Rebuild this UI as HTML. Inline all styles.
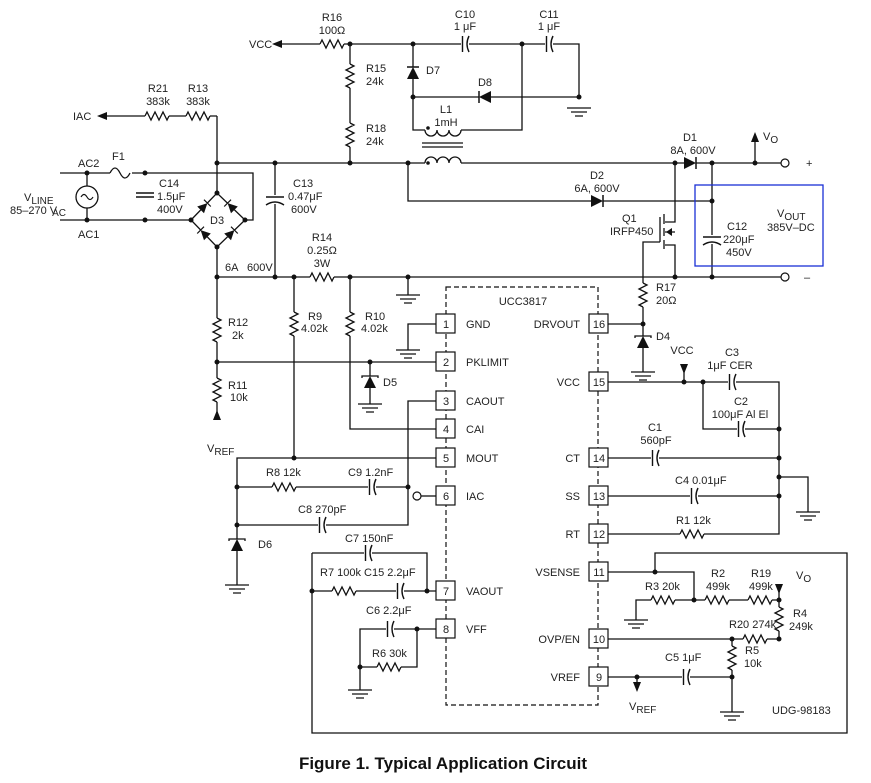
<!DOCTYPE html>
<html><head><meta charset="utf-8"><style>
html,body{margin:0;padding:0;background:#fff;}
svg{display:block;}
text{font-family:"Liberation Sans",Arial,sans-serif;font-size:11px;fill:#222;}
.w{fill:none;stroke:#111;stroke-width:1.3;}
.g{fill:none;stroke:#555;stroke-width:1.3;}
</style></head><body>
<svg width="871" height="783" viewBox="0 0 871 783" xmlns="http://www.w3.org/2000/svg">
<defs>
<g id="rh"><rect x="0" y="-2" width="24" height="4" fill="#fff"/><path d="M0,0 l2,-4 l4,8 l4,-8 l4,8 l4,-8 l4,8 l2,-4" fill="none" stroke="#111" stroke-width="1.3"/></g>
<g id="rv" transform="rotate(90)"><use href="#rh"/></g>
<g id="cap"><rect x="-4" y="-8" width="8" height="16" fill="#fff"/><path d="M-2.5,-8 V8 M4,-8 Q0,0 4,8" fill="none" stroke="#111" stroke-width="1.4"/></g>
<g id="capv" transform="rotate(90)"><use href="#cap"/></g>
<g id="gnd"><path d="M-12,0 H12 M-8,4 H8 M-4,8 H4" stroke="#111" stroke-width="1.3"/></g>
<g id="dr"><rect x="-6" y="-7" width="12" height="14" fill="#fff"/><polygon points="-6,-6 -6,6 6,0" fill="#111"/><path d="M6,-6 V6" stroke="#111" stroke-width="1.5"/></g>
<g id="zu"><rect x="-7" y="-6" width="14" height="12" fill="#fff"/><polygon points="-6,6 6,6 0,-6" fill="#111"/><path d="M-8,-4 V-6 H8 V-4" fill="none" stroke="#111" stroke-width="1.3"/></g>
</defs>

<!-- wires -->
<g class="w">
<path d="M280,44 H579 V97"/>
<path d="M413,44 V130 H425"/>
<path d="M461,130 H522 V44"/>
<path d="M413,97 H579"/>
<path d="M350,44 V163"/>
<path d="M217,116 V193 M217,247 V420"/>
<path d="M100,116 H217"/>
<path d="M60,173 H253 V220 H245 M60,220 H191"/>
<path d="M191,220 L217,193 L245,220 L217,247 Z"/>
<path d="M217,163 H425 M461,163 H781"/>
<path d="M408,163 V201 H712"/>
<path d="M712,163 V277"/>
<path d="M755,163 V140"/>
<path d="M275,163 V277"/>
<path d="M217,277 H781"/>
<path d="M675,163 V222 H665 M664,214 V224 M664,228 V236 M664,240 V249 M660,217 V242 M665,232 H675 M665,245 H675 V277"/>
<path d="M660,242 H643 V324"/>
<path d="M294,277 V458 M350,277 V429 H436"/>
<path d="M217,362 H436 M370,362 V404"/>
<path d="M436,324 H408 V350"/>
<path d="M436,401 H408 V525 H237 M436,458 H237 V585 M237,487 H408"/>
<path d="M421,496 H436"/>
<path d="M312,553 H427 V591 H436 M312,553 V733 H847 V553 H655 V572 M312,591 H427"/>
<path d="M436,629 H360 V690 M360,667 H417 V629"/>
<path d="M608,324 H643 V372"/>
<path d="M608,382 H779 V534 H608 M703,382 V429 H779 M608,458 H779 M608,496 H779 M779,477 H808 V512"/>
<path d="M684,365 V382"/>
<path d="M608,572 H694 V600 M636,620 V600 H779 M779,590 V639 H732 M608,639 H732 V712 M608,677 H732 M637,677 V685"/>
</g>
<!-- arrows -->
<polygon points="272,44 282,40 282,48" fill="#111"/>
<polygon points="97,116 107,112 107,120" fill="#111"/>
<polygon points="755,132 751,142 759,142" fill="#111"/>
<polygon points="217,410 213,420 221,420" fill="#111"/>
<polygon points="684,374 680,364 688,364" fill="#111"/>
<polygon points="779,594 775,584 783,584" fill="#111"/>
<polygon points="637,692 633,682 641,682" fill="#111"/>
<polygon points="666,232 672,228 672,236" fill="#111"/>

<!-- inductor -->
<g class="w">
<path d="M425,130 a6,6 0 0 0 12,0 a6,6 0 0 0 12,0 a6,6 0 0 0 12,0"/>
<path d="M425,163 a6,6 0 0 1 12,0 a6,6 0 0 1 12,0 a6,6 0 0 1 12,0"/>
<path d="M422,143 H463 M422,147 H463"/>
</g>
<circle cx="428" cy="128" r="1.8" fill="#111"/><circle cx="428" cy="163" r="1.8" fill="#111"/>

<!-- AC source & fuse -->
<circle cx="87" cy="197" r="11" fill="#fff" stroke="#111" stroke-width="1.3"/>
<path d="M81,197 q3,-5 6,0 q3,5 6,0" fill="none" stroke="#111" stroke-width="1.2"/>
<path d="M87,173 V186 M87,208 V220" stroke="#111" stroke-width="1.3"/>
<rect x="110" y="168" width="22" height="10" fill="#fff"/>
<path d="M110,173 q5,-10 10,0 q5,10 10,0" fill="none" stroke="#111" stroke-width="1.3"/>

<!-- resistors -->
<use href="#rh" x="320" y="44"/><use href="#rh" x="145" y="116"/><use href="#rh" x="186" y="116"/>
<use href="#rh" x="310" y="277"/><use href="#rh" x="272" y="487"/><use href="#rh" x="332" y="591"/>
<use href="#rh" x="377" y="667"/><use href="#rh" x="680" y="534"/><use href="#rh" x="651" y="600"/>
<use href="#rh" x="705" y="600"/><use href="#rh" x="748" y="600"/><use href="#rh" x="743" y="639"/>
<use href="#rv" x="350" y="64"/><use href="#rv" x="350" y="123"/><use href="#rv" x="217" y="318"/>
<use href="#rv" x="217" y="378"/><use href="#rv" x="294" y="312"/><use href="#rv" x="350" y="312"/>
<use href="#rv" x="643" y="283"/><use href="#rv" x="779" y="607"/><use href="#rv" x="732" y="646"/>

<!-- caps -->
<use href="#cap" x="465" y="44"/><use href="#cap" x="549" y="44"/><use href="#cap" x="372" y="487"/>
<use href="#cap" x="322" y="525"/><use href="#cap" x="368" y="553"/><use href="#cap" x="400" y="591"/>
<use href="#cap" x="390" y="629"/><use href="#cap" x="732" y="382"/><use href="#cap" x="741" y="429"/>
<use href="#cap" x="655" y="458"/><use href="#cap" x="694" y="496"/><use href="#cap" x="686" y="677"/>
<g transform="translate(145,195)"><rect x="-8" y="-4" width="16" height="8" fill="#fff"/><path d="M-9,-2 H9 M-9,2 H9" stroke="#111" stroke-width="1.4"/></g>
<g transform="translate(275,200)"><rect x="-9" y="-5" width="18" height="9" fill="#fff"/><path d="M-9,-3 H9 M-9,5 Q0,-1 9,5" fill="none" stroke="#111" stroke-width="1.4"/></g>
<g transform="translate(712,240)"><rect x="-9" y="-5" width="18" height="9" fill="#fff"/><path d="M-9,-3 H9 M-9,5 Q0,-1 9,5" fill="none" stroke="#111" stroke-width="1.4"/></g>

<!-- diodes -->
<use href="#dr" transform="translate(413,73) rotate(-90)"/>
<use href="#dr" transform="translate(485,97) rotate(180)"/>
<use href="#dr" transform="translate(690,163)"/>
<use href="#dr" transform="translate(597,201)"/>
<use href="#dr" transform="translate(204,206.5) rotate(-45) scale(0.8)"/>
<use href="#dr" transform="translate(231,206.5) rotate(-135) scale(0.8)"/>
<use href="#dr" transform="translate(204,233.5) rotate(-135) scale(0.8)"/>
<use href="#dr" transform="translate(231,233.5) rotate(-45) scale(0.8)"/>
<use href="#zu" x="370" y="382"/><use href="#zu" x="237" y="545"/><use href="#zu" x="643" y="342"/>

<!-- grounds -->
<use href="#gnd" x="408" y="295"/><use href="#gnd" x="579" y="108"/><use href="#gnd" x="370" y="404"/>
<use href="#gnd" x="408" y="350"/><use href="#gnd" x="237" y="585"/><use href="#gnd" x="360" y="690"/>
<use href="#gnd" x="643" y="372"/><use href="#gnd" x="808" y="512"/><use href="#gnd" x="636" y="620"/>
<use href="#gnd" x="732" y="712"/>
<path d="M408,277 V295" stroke="#111" stroke-width="1.3"/>

<!-- terminals -->
<circle cx="785" cy="163" r="4" fill="#fff" stroke="#111" stroke-width="1.2"/>
<circle cx="785" cy="277" r="4" fill="#fff" stroke="#111" stroke-width="1.2"/>
<circle cx="417" cy="496" r="4" fill="#fff" stroke="#111" stroke-width="1.2"/>

<!-- dots -->
<g fill="#111">
<circle cx="350" cy="44" r="2.5"/><circle cx="413" cy="44" r="2.5"/><circle cx="522" cy="44" r="2.5"/>
<circle cx="413" cy="97" r="2.5"/><circle cx="579" cy="97" r="2.5"/><circle cx="217" cy="163" r="2.5"/>
<circle cx="275" cy="163" r="2.5"/><circle cx="350" cy="163" r="2.5"/><circle cx="408" cy="163" r="2.5"/>
<circle cx="675" cy="163" r="2.5"/><circle cx="712" cy="163" r="2.5"/><circle cx="755" cy="163" r="2.5"/>
<circle cx="712" cy="201" r="2.5"/><circle cx="87" cy="173" r="2.5"/><circle cx="87" cy="220" r="2.5"/>
<circle cx="145" cy="173" r="2.5"/><circle cx="145" cy="220" r="2.5"/><circle cx="217" cy="193" r="2.5"/>
<circle cx="191" cy="220" r="2.5"/><circle cx="245" cy="220" r="2.5"/><circle cx="217" cy="247" r="2.5"/>
<circle cx="217" cy="277" r="2.5"/><circle cx="275" cy="277" r="2.5"/><circle cx="294" cy="277" r="2.5"/>
<circle cx="350" cy="277" r="2.5"/><circle cx="408" cy="277" r="2.5"/><circle cx="675" cy="277" r="2.5"/>
<circle cx="712" cy="277" r="2.5"/><circle cx="217" cy="362" r="2.5"/><circle cx="370" cy="362" r="2.5"/>
<circle cx="294" cy="458" r="2.5"/><circle cx="237" cy="487" r="2.5"/><circle cx="408" cy="487" r="2.5"/>
<circle cx="237" cy="525" r="2.5"/><circle cx="312" cy="591" r="2.5"/><circle cx="427" cy="591" r="2.5"/>
<circle cx="417" cy="629" r="2.5"/><circle cx="360" cy="667" r="2.5"/><circle cx="643" cy="324" r="2.5"/>
<circle cx="684" cy="382" r="2.5"/><circle cx="703" cy="382" r="2.5"/><circle cx="779" cy="429" r="2.5"/>
<circle cx="779" cy="458" r="2.5"/><circle cx="779" cy="477" r="2.5"/><circle cx="779" cy="496" r="2.5"/>
<circle cx="655" cy="572" r="2.5"/><circle cx="694" cy="600" r="2.5"/><circle cx="779" cy="600" r="2.5"/>
<circle cx="732" cy="639" r="2.5"/><circle cx="779" cy="639" r="2.5"/><circle cx="732" cy="677" r="2.5"/>
<circle cx="637" cy="677" r="2.5"/>
</g>

<!-- IC -->
<rect x="446" y="287" width="152" height="418" fill="none" stroke="#111" stroke-width="1.2" stroke-dasharray="5,3"/>
<g fill="#fff" stroke="#111" stroke-width="1.2">
<rect x="436" y="314" width="19" height="19"/><rect x="436" y="352" width="19" height="19"/>
<rect x="436" y="391" width="19" height="19"/><rect x="436" y="419" width="19" height="19"/>
<rect x="436" y="448" width="19" height="19"/><rect x="436" y="486" width="19" height="19"/>
<rect x="436" y="581" width="19" height="19"/><rect x="436" y="619" width="19" height="19"/>
<rect x="589" y="314" width="19" height="19"/><rect x="589" y="372" width="19" height="19"/>
<rect x="589" y="448" width="19" height="19"/><rect x="589" y="486" width="19" height="19"/>
<rect x="589" y="524" width="19" height="19"/><rect x="589" y="562" width="19" height="19"/>
<rect x="589" y="629" width="19" height="19"/><rect x="589" y="667" width="19" height="19"/>
</g>
<g text-anchor="middle">
<text x="446" y="328">1</text><text x="446" y="366">2</text><text x="446" y="405">3</text><text x="446" y="433">4</text>
<text x="446" y="462">5</text><text x="446" y="500">6</text><text x="446" y="595">7</text><text x="446" y="633">8</text>
<text x="599" y="328">16</text><text x="599" y="386">15</text><text x="599" y="462">14</text><text x="599" y="500">13</text>
<text x="599" y="538">12</text><text x="599" y="576">11</text><text x="599" y="643">10</text><text x="599" y="681">9</text>
<text x="523" y="305">UCC3817</text>
</g>
<g>
<text x="466" y="328">GND</text><text x="466" y="366">PKLIMIT</text><text x="466" y="405">CAOUT</text><text x="466" y="433">CAI</text>
<text x="466" y="462">MOUT</text><text x="466" y="500">IAC</text><text x="466" y="595">VAOUT</text><text x="466" y="633">VFF</text>
</g>
<g text-anchor="end">
<text x="580" y="328">DRVOUT</text><text x="580" y="386">VCC</text><text x="580" y="462">CT</text><text x="580" y="500">SS</text>
<text x="580" y="538">RT</text><text x="580" y="576">VSENSE</text><text x="580" y="643">OVP/EN</text><text x="580" y="681">VREF</text>
</g>

<!-- labels -->
<g text-anchor="middle">
<text x="332" y="21">R16</text><text x="332" y="34">100Ω</text>
<text x="465" y="18">C10</text><text x="465" y="30">1 μF</text>
<text x="549" y="18">C11</text><text x="549" y="30">1 μF</text>
<text x="485" y="86">D8</text>
<text x="446" y="113">L1</text><text x="446" y="126">1mH</text>
<text x="158" y="92">R21</text><text x="158" y="105">383k</text>
<text x="198" y="92">R13</text><text x="198" y="105">383k</text>
<text x="690" y="141">D1</text><text x="693" y="154">8A, 600V</text>
<text x="597" y="179">D2</text><text x="597" y="192">6A, 600V</text>
<text x="322" y="241">R14</text><text x="322" y="254">0.25Ω</text><text x="322" y="267">3W</text>
<text x="682" y="354">VCC</text>
<text x="732" y="356">C3</text><text x="730" y="369">1μF CER</text>
<text x="741" y="405">C2</text><text x="740" y="418">100μF Al El</text>
<text x="655" y="431">C1</text><text x="656" y="444">560pF</text>
<text x="730" y="603" text-anchor="middle"></text>
</g>
<text x="249" y="48">VCC</text>
<text x="73" y="120">IAC</text>
<text x="366" y="72">R15</text><text x="366" y="85">24k</text>
<text x="366" y="132">R18</text><text x="366" y="145">24k</text>
<text x="426" y="74">D7</text>
<text x="112" y="160">F1</text>
<text x="78" y="167">AC2</text><text x="78" y="238">AC1</text>
<text x="159" y="187">C14</text><text x="157" y="200">1.5μF</text><text x="157" y="213">400V</text>
<text x="24" y="201">V<tspan font-size="10" dy="3">LINE</tspan></text>
<text x="10" y="214">85–270 V<tspan font-size="10" dy="2" dx="-5">AC</tspan></text>
<text x="210" y="224">D3</text>
<text x="225" y="271">6A</text><text x="247" y="271">600V</text>
<text x="293" y="187">C13</text><text x="288" y="200">0.47μF</text><text x="291" y="213">600V</text>
<text x="763" y="140">V<tspan font-size="10" dy="3">O</tspan></text>
<text x="806" y="167">+</text><text x="804" y="281">–</text>
<text x="622" y="222">Q1</text><text x="610" y="235">IRFP450</text>
<text x="727" y="230">C12</text><text x="723" y="243">220μF</text><text x="726" y="256">450V</text>
<text x="777" y="217">V<tspan font-size="10" dy="3">OUT</tspan></text><text x="767" y="231">385V–DC</text>
<text x="656" y="291">R17</text><text x="656" y="304">20Ω</text>
<text x="656" y="340">D4</text>
<text x="228" y="326">R12</text><text x="232" y="339">2k</text>
<text x="228" y="389">R11</text><text x="230" y="401">10k</text>
<text x="207" y="452">V<tspan font-size="10" dy="3">REF</tspan></text>
<text x="308" y="320">R9</text><text x="301" y="332">4.02k</text>
<text x="365" y="320">R10</text><text x="361" y="332">4.02k</text>
<text x="383" y="386">D5</text>
<text x="266" y="476">R8  12k</text><text x="348" y="476">C9 1.2nF</text>
<text x="298" y="513">C8  270pF</text>
<text x="258" y="548">D6</text>
<text x="345" y="542">C7  150nF</text>
<text x="320" y="576">R7  100k  C15  2.2μF</text>
<text x="366" y="614">C6  2.2μF</text>
<text x="372" y="657">R6 30k</text>
<text x="675" y="484">C4  0.01μF</text>
<text x="676" y="524">R1  12k</text>
<text x="645" y="590">R3   20k</text>
<text x="711" y="577">R2</text><text x="706" y="590">499k</text>
<text x="751" y="577">R19</text><text x="749" y="590">499k</text>
<text x="796" y="579">V<tspan font-size="10" dy="3">O</tspan></text>
<text x="793" y="617">R4</text><text x="789" y="630">249k</text>
<text x="729" y="628">R20 274k</text>
<text x="745" y="654">R5</text><text x="744" y="667">10k</text>
<text x="665" y="661">C5  1μF</text>
<text x="629" y="710">V<tspan font-size="10" dy="3">REF</tspan></text>
<text x="772" y="714">UDG-98183</text>

<rect x="695" y="185" width="128" height="81" fill="none" stroke="#1a2fd6" stroke-width="1.3"/>

<text x="443" y="769" text-anchor="middle" style="font-size:17px;font-weight:bold;fill:#111">Figure 1. Typical Application Circuit</text>
</svg>
</body></html>
